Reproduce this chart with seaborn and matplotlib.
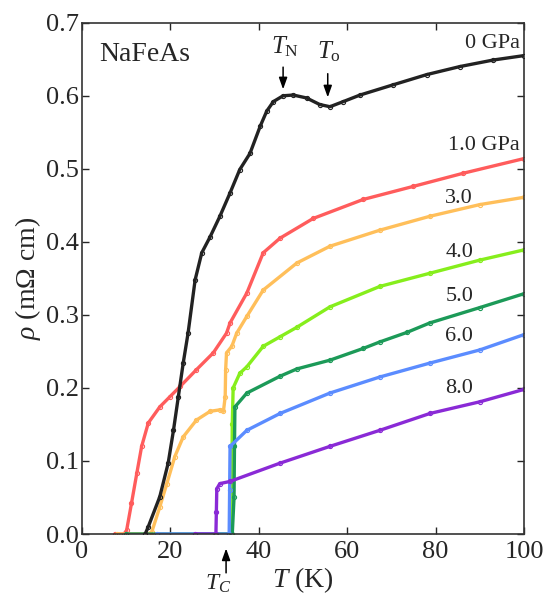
import pandas as pd
import seaborn as sns
import matplotlib.pyplot as plt

# --------------------------------------------------
# Data
# --------------------------------------------------

T_0 = [14.3, 15.0, 17.6, 19.5, 20.7, 21.8, 22.9, 24.0, 25.6, 27.1, 29.0, 31.2, 33.5,
       35.7, 38.0, 40.3, 41.8, 43.3, 45.5, 47.8, 50.8, 53.8, 56.1, 59.1, 62.9, 70.4,
       78.0, 85.5, 93.1, 100.0]
R_0 = [0.0, 0.010, 0.051, 0.097, 0.142, 0.188, 0.234, 0.275, 0.348, 0.385, 0.407, 0.435,
       0.467, 0.499, 0.521, 0.558, 0.579, 0.592, 0.600, 0.601, 0.597, 0.588, 0.585, 0.592,
       0.601, 0.615, 0.629, 0.640, 0.649, 0.655]

T_1 = [7.5, 9.5, 10.1, 11.2, 12.4, 13.5, 15.0, 17.6, 19.9, 22.2, 25.9, 29.7, 32.7, 33.5,
       37.3, 41.0, 44.8, 52.3, 63.6, 75.0, 86.3, 100.0]
R_1 = [0.0, 0.0, 0.005, 0.042, 0.083, 0.120, 0.152, 0.174, 0.188, 0.202, 0.225, 0.248,
       0.275, 0.289, 0.330, 0.385, 0.405, 0.432, 0.458, 0.476, 0.494, 0.514]

T_3 = [8.0, 15.0, 15.8, 17.6, 19.2, 21.0, 22.9, 25.9, 29.0, 31.2, 32.0, 32.4, 32.5, 32.7,
       33.9, 35.0, 37.3, 41.0, 48.6, 56.1, 67.4, 78.7, 90.0, 100.0]
R_3 = [0.0, 0.0, 0.003, 0.037, 0.069, 0.106, 0.133, 0.156, 0.168, 0.170, 0.168, 0.188,
       0.225, 0.248, 0.257, 0.275, 0.298, 0.334, 0.371, 0.394, 0.416, 0.435, 0.451, 0.461]

T_4 = [30.0, 33.8, 33.9, 34.0, 34.2, 35.7, 37.3, 41.0, 44.8, 48.6, 56.1, 67.4, 78.7,
       90.0, 100.0]
R_4 = [0.0, 0.0, 0.06, 0.15, 0.200, 0.220, 0.229, 0.257, 0.270, 0.283, 0.311, 0.339,
       0.357, 0.375, 0.389]

T_5 = [10.0, 34.0, 34.4, 34.5, 34.6, 37.3, 44.8, 48.6, 56.1, 63.6, 67.4, 73.5, 78.7,
       90.0, 100.0]
R_5 = [0.0, 0.0, 0.05, 0.12, 0.174, 0.193, 0.216, 0.226, 0.238, 0.254, 0.263, 0.276,
       0.289, 0.310, 0.329]

T_6 = [16.9, 33.3, 33.4, 33.5, 37.3, 44.8, 56.1, 67.4, 78.7, 90.0, 100.0]
R_6 = [0.0, 0.0, 0.06, 0.120, 0.142, 0.165, 0.193, 0.215, 0.234, 0.252, 0.273]

T_8 = [25.6, 30.3, 30.4, 30.5, 31.2, 33.5, 44.8, 56.1, 67.4, 78.7, 90.0, 100.0]
R_8 = [0.0, 0.0, 0.03, 0.062, 0.069, 0.072, 0.097, 0.120, 0.142, 0.165, 0.181, 0.198]

PRESSURES = ["1.0", "3.0", "0", "4.0", "5.0", "6.0", "8.0"]
SERIES = {
    "0": (T_0, R_0), "1.0": (T_1, R_1), "3.0": (T_3, R_3), "4.0": (T_4, R_4),
    "5.0": (T_5, R_5), "6.0": (T_6, R_6), "8.0": (T_8, R_8),
}
COLORS = {
    "0": "#222222", "1.0": "#ff5c5c", "3.0": "#ffbf5a", "4.0": "#86ee1c",
    "5.0": "#1c9a58", "6.0": "#5b8cff", "8.0": "#8a2ad6",
}

# --------------------------------------------------
# Plot
# --------------------------------------------------

sns.set_style("ticks")
plt.rcParams["font.family"] = ["Liberation Serif", "DejaVu Serif"]
plt.rcParams["mathtext.fontset"] = "custom"
plt.rcParams["mathtext.rm"] = "Liberation Serif"
plt.rcParams["mathtext.it"] = "Liberation Serif:italic"

fig = plt.figure(figsize=(5.48, 6.06), dpi=100)
ax = fig.add_axes([0.1496, 0.1188, 0.8066, 0.8437])

for p in PRESSURES:
    t, r = SERIES[p]
    d = pd.DataFrame({"T": t, "rho": r})
    sns.lineplot(data=d, x="T", y="rho", ax=ax, estimator=None, sort=False,
                 color=COLORS[p], linewidth=2.4, marker="o", markersize=3.0,
                 markerfacecolor="none", markeredgecolor=COLORS[p],
                 markeredgewidth=0.8, zorder=3 if p == "0" else 2)

ax.set_xlim(0, 100)
ax.set_ylim(0, 0.7)
ax.set_xticks([0, 20, 40, 60, 80, 100])
ax.set_yticks([0.0, 0.1, 0.2, 0.3, 0.4, 0.5, 0.6, 0.7])
ax.set_yticklabels([f"{v:.1f}" for v in ax.get_yticks()])
ax.tick_params(direction="in", top=True, right=True, length=5, width=1,
               labelsize=19, pad=2)
ax.tick_params(axis="x", pad=5)
for s in ax.spines.values():
    s.set_linewidth(1.2)
    s.set_color("#333333")

ax.set_xlabel(r"$T$ (K)", fontsize=20, labelpad=2)
ax.set_ylabel(r"$\rho$ (mΩ cm)", fontsize=20, labelpad=2)

# labels
ax.text(4, 0.656, "NaFeAs", fontsize=20, va="center")
ax.text(99, 0.672, "0 GPa", fontsize=16, ha="right", va="center")
ax.text(99, 0.532, "1.0 GPa", fontsize=16, ha="right", va="center")
for lab, y in [("3.0", 0.459), ("4.0", 0.386), ("5.0", 0.325), ("6.0", 0.270), ("8.0", 0.199)]:
    ax.text(88.5, y, lab, fontsize=16, ha="right", va="center")

# transition arrows
ap = dict(arrowstyle="-|>,head_width=0.25,head_length=0.7", color="black", lw=1.1)
ax.annotate("", xy=(45.5, 0.605), xytext=(45.5, 0.643), arrowprops=ap)
ax.text(46.0, 0.667, r"$T_{\rm N}$", fontsize=18, ha="center", va="center")
ax.annotate("", xy=(55.6, 0.594), xytext=(55.6, 0.634), arrowprops=ap)
ax.text(55.9, 0.660, r"$T_{\rm o}$", fontsize=18, ha="center", va="center")

ax.annotate("", xy=(32.6, -0.016), xytext=(32.6, -0.057), arrowprops=ap,
            annotation_clip=False)
ax.text(30.8, -0.068, r"$T_C$", fontsize=17, ha="center", va="center")

plt.savefig("out.png", dpi=100)
plt.close()
